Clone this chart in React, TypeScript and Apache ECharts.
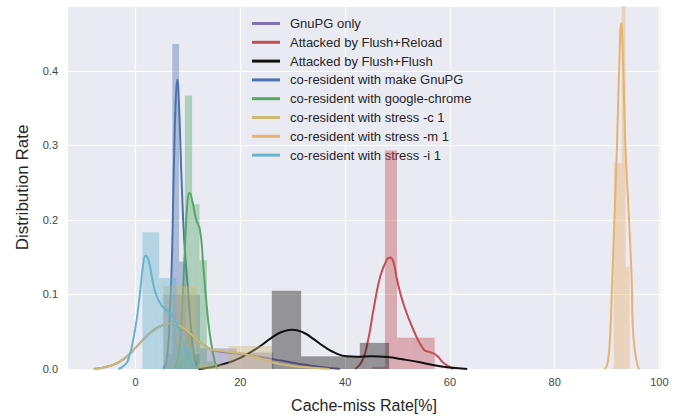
import React, { useEffect, useRef } from "react";
import * as echarts from "echarts";

// ---- data: histograms [binStart, binEnd, density] and KDE curves [x, density]
const seriesNames = [
  "GnuPG only",
  "Attacked by Flush+Reload",
  "Attacked by Flush+Flush",
  "co-resident with make GnuPG",
  "co-resident with google-chrome",
  "co-resident with stress -c 1",
  "co-resident with stress -m 1",
  "co-resident with stress -i 1",
];
const seriesColors = ["#8172B2", "#C44E52", "#111111", "#4C72B0", "#55A868", "#CCB974", "#E8B26F", "#64B5CD"];

const gnupgHist = [[5.3, 12.3, 0.1], [12.3, 19.3, 0.028], [19.3, 26.3, 0.022]];
const gnupgKde = [[-8, 0], [-5, 0.004], [-2.4, 0.0125], [0.2, 0.03], [2.7, 0.048], [5.3, 0.059], [6.9, 0.0612], [8.5, 0.057], [10.5, 0.046], [12.5, 0.035], [14.2, 0.027], [16.5, 0.023], [18.7, 0.021], [21, 0.019], [24, 0.016], [28, 0.011], [33, 0.005], [36, 0.002], [39, 0]];

const reloadHist = [[45.2, 47.6, 0.003], [47.6, 49.9, 0.293], [49.9, 52.3, 0.042], [52.3, 54.7, 0.042], [54.7, 57.1, 0.042]];
const reloadKde = [[41.9, 0], [43.2, 0.01], [44.3, 0.036], [45.5, 0.083], [46.7, 0.124], [47.9, 0.146], [48.6, 0.1495], [49.2, 0.144], [49.9, 0.12], [51.1, 0.088], [53, 0.053], [55, 0.026], [56, 0.023], [56.9, 0.021], [57.8, 0.016], [58.8, 0.008], [60.7, 0]];

const flushHist = [[26, 31.6, 0.105], [31.6, 37.2, 0.017], [37.2, 42.8, 0.017], [42.8, 48.4, 0.035]];
const flushKde = [[12, 0], [14, 0.002], [17, 0.007], [20, 0.015], [23, 0.027], [26, 0.042], [28, 0.05], [29.8, 0.0526], [32, 0.049], [34, 0.04], [36, 0.03], [38, 0.022], [40.3, 0.017], [42.2, 0.0165], [45, 0.017], [48, 0.016], [51, 0.013], [54.3, 0.009], [57, 0.005], [60, 0.002], [63.3, 0]];

const makeHist = [[5.7, 7.0, 0.02], [7.0, 8.3, 0.436], [8.3, 9.6, 0.144], [9.6, 10.9, 0.05], [10.9, 12.2, 0.02]];
const makeKde = [[5.3, 0], [6.0, 0.015], [6.5, 0.07], [6.9, 0.14], [7.3, 0.27], [7.65, 0.36], [7.95, 0.388], [8.3, 0.35], [8.8, 0.249], [9.3, 0.17], [9.9, 0.115], [10.5, 0.06], [11, 0.026], [11.7, 0]];

const chromeHist = [[8.0, 9.4, 0.02], [9.4, 10.8, 0.367], [10.8, 12.2, 0.221], [12.2, 13.6, 0.146], [13.6, 15.0, 0.01]];
const chromeKde = [[7.4, 0], [8.1, 0.017], [8.8, 0.07], [9.4, 0.16], [9.9, 0.225], [10.3, 0.236], [10.8, 0.226], [11.5, 0.202], [12.3, 0.186], [12.9, 0.14], [13.5, 0.09], [14.1, 0.05], [14.8, 0.02], [15.5, 0]];

const stressCHist = [[5.3, 11.6, 0.1115], [11.6, 17.7, 0.006], [17.7, 26.0, 0.031]];
const stressCKde = [[-8, 0], [-5, 0.004], [-2.4, 0.0125], [0.2, 0.03], [2.7, 0.048], [5.3, 0.059], [6.9, 0.0615], [8.5, 0.058], [10.5, 0.047], [12.5, 0.035], [14.2, 0.027], [16.5, 0.024], [18.7, 0.022], [20, 0.021], [23, 0.016], [26, 0.009], [30, 0.004], [33, 0.002], [37, 0]];

const stressMHist = [[91.3, 92.05, 0.276], [92.05, 92.8, 0.276], [92.8, 93.55, 0.62], [93.55, 94.3, 0.137]];
const stressMKde = [[89.5, 0], [90, 0.005], [90.4, 0.025], [90.7, 0.06], [90.9, 0.1], [91.4, 0.2], [91.9, 0.3], [92.3, 0.4], [92.7, 0.464], [93.1, 0.4], [93.5, 0.3], [94.2, 0.2], [94.7, 0.12], [94.9, 0.06], [95.3, 0.025], [95.9, 0.003], [96.2, 0]];

const stressIHist = [[1.3, 4.5, 0.1835], [4.5, 7.8, 0.122], [7.8, 11.1, 0.03]];
const stressIKde = [[-3.3, 0], [-2.3, 0.004], [-1.4, 0.0125], [-0.1, 0.053], [0.8, 0.1], [1.4, 0.138], [1.9, 0.152], [2.5, 0.145], [3.2, 0.12], [4, 0.098], [5, 0.085], [5.9, 0.079], [7.5, 0.066], [8.3, 0.052], [9.1, 0.035], [10.3, 0.012], [11.7, 0]];

const hists = [gnupgHist, reloadHist, flushHist, makeHist, chromeHist, stressCHist, stressMHist, stressIHist];
const kdes = [gnupgKde, reloadKde, flushKde, makeKde, chromeKde, stressCKde, stressMKde, stressIKde];

const xMin = -13.1;
const xMax = 100.3;
const yMax = 0.487;

function hexToRgba(hex: string, a: number) {
  const n = parseInt(hex.slice(1), 16);
  return `rgba(${(n >> 16) & 255},${(n >> 8) & 255},${n & 255},${a})`;
}

const FONT = "Liberation Sans, Arial, sans-serif";

export default function App() {
  const ref = useRef<HTMLDivElement>(null);
  useEffect(() => {
    if (!ref.current) return;
    const chart = echarts.init(ref.current, undefined, { renderer: "svg" });
    const series: any[] = [];
    seriesNames.forEach((name, i) => {
      const color = seriesColors[i];
      series.push({
        name: name + " hist",
        type: "custom",
        data: hists[i],
        encode: { x: [0, 1], y: 2 },
        renderItem: (params: any, api: any) => {
          const p0 = api.coord([api.value(0), api.value(2)]);
          const p1 = api.coord([api.value(1), 0]);
          const shape = echarts.graphic.clipRectByRect(
            { x: p0[0], y: p0[1], width: p1[0] - p0[0], height: p1[1] - p0[1] },
            { x: params.coordSys.x, y: params.coordSys.y, width: params.coordSys.width, height: params.coordSys.height }
          );
          return shape ? { type: "rect", shape, style: { fill: hexToRgba(color, 0.4) } } : null;
        },
        z: 2 + i * 2,
        silent: true,
      });
      series.push({
        name,
        type: "line",
        data: kdes[i],
        showSymbol: false,
        symbol: "none",
        smooth: 0.5,
        lineStyle: { color, width: 2 },
        itemStyle: { color },
        z: 3 + i * 2,
        silent: true,
        clip: true,
      });
    });
    chart.setOption({
      animation: false,
      grid: {
        left: 67,
        right: 23,
        top: 6,
        bottom: 50,
        show: true,
        backgroundColor: "#EAEAF2",
        borderWidth: 0,
      },
      legend: {
        data: seriesNames,
        orient: "vertical",
        left: 247,
        top: 11,
        icon: "rect",
        itemWidth: 28,
        itemHeight: 3,
        itemGap: 3.8,
        textStyle: { fontFamily: FONT, fontSize: 13, color: "#262626", lineHeight: 15, padding: [0, 0, 0, 5] },
        selectedMode: false,
      },
      xAxis: {
        type: "value",
        min: xMin,
        max: xMax,
        splitNumber: 5,
        name: "Cache-miss Rate[%]",
        nameLocation: "middle",
        nameGap: 28,
        nameTextStyle: { fontFamily: FONT, fontSize: 16, color: "#262626" },
        axisLine: { show: false },
        axisTick: { show: false },
        axisLabel: {
          margin: 7,
          fontFamily: FONT,
          fontSize: 11,
          color: "#444",
          formatter: (v: number) => (Math.abs(v % 20) < 1e-6 ? String(Math.round(v)) : ""),
        },
        splitLine: { show: true, lineStyle: { color: "#ffffff", width: 1.2 } },
      },
      yAxis: {
        type: "value",
        min: 0,
        max: yMax,
        interval: 0.1,
        name: "Distribution Rate",
        nameLocation: "middle",
        nameGap: 36,
        nameTextStyle: { fontFamily: FONT, fontSize: 17, color: "#262626" },
        axisLine: { show: false },
        axisTick: { show: false },
        axisLabel: {
          margin: 9,
          fontFamily: FONT,
          fontSize: 11,
          color: "#444",
          formatter: (v: number) => (Math.abs(v * 10 - Math.round(v * 10)) < 1e-6 ? v.toFixed(1) : ""),
        },
        splitLine: { show: true, lineStyle: { color: "#ffffff", width: 1.2 } },
      },
      series,
    });
    return () => chart.dispose();
  }, []);
  return <div ref={ref} style={{ width: 684, height: 419, position: "absolute", left: 0, top: 0 }} />;
}
